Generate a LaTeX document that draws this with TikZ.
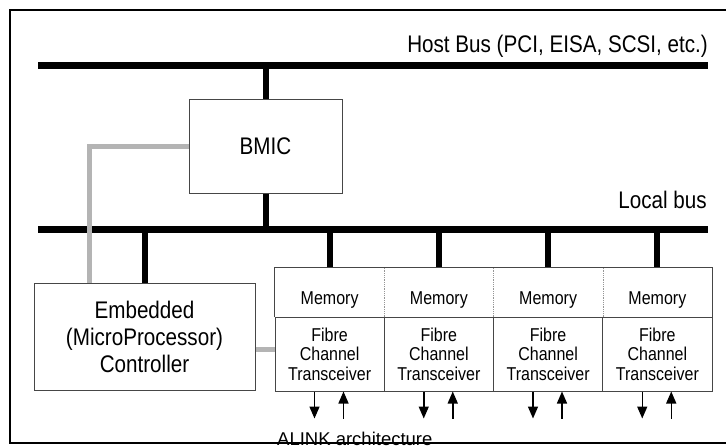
\documentclass[tikz,border=0pt]{standalone}
\usepackage{fontspec}
\setmainfont{Liberation Sans}[FakeStretch=0.86]
\newfontfamily\captionfont{Liberation Sans}
\usetikzlibrary{arrows.meta, positioning}
\definecolor{boxline}{RGB}{70,70,70}
\definecolor{ctrlgray}{RGB}{180,180,180}
\definecolor{divgray}{RGB}{150,150,150}

\begin{document}
\begin{tikzpicture}[x=1pt, y=-1pt,
  bus/.style={line width=7pt},
  tap/.style={line width=6pt},
  ctrlline/.style={line width=5pt, ctrlgray},
  blk/.style={draw=boxline, line width=1pt, align=center, inner sep=0pt},
  bigtext/.style={font=\fontsize{24}{27}\selectfont},
  smalltext/.style={font=\fontsize{18.6}{19.5}\selectfont},
  sig/.style={line width=1.5pt, -{Triangle[width=10pt, length=12pt]}}]
  \useasboundingbox (0,0) rectangle (726,447);

  \coordinate (hbW) at (38,65);
  \coordinate (hbE) at (708,65);
  \coordinate (lbW) at (38,229);
  \coordinate (lbE) at (708,229);
  \draw[bus] (hbW) -- (hbE);
  \draw[bus] (lbW) -- (lbE);
  \node[bigtext, anchor=base east, inner sep=0pt] (hostlbl) at (708,52)
    {Host Bus (PCI, EISA, SCSI, etc.)};
  \node[bigtext, anchor=base east, inner sep=0pt] (locallbl) at (707,208) {Local bus};

  \node[blk, bigtext, minimum width=153pt, minimum height=94pt] (bmic) at (265.5,146) {BMIC};
  \draw[tap] (bmic.north) -- (bmic.north |- hbW);
  \draw[tap] (bmic.south) -- (bmic.south |- lbW);

  \node[blk, bigtext, minimum width=221pt, minimum height=107pt]
    (ctrl) at (144.5,336.5) {Embedded\\(MicroProcessor)\\Controller};
  \draw[tap] (ctrl.north) -- (ctrl.north |- lbW);
  \draw[ctrlline] ([xshift=-55.5pt]ctrl.north) |- (bmic.west);

  \foreach \i in {1,...,4} {
    \pgfmathsetmacro\cx{275+109.25*(\i-0.5)}
    \node[smalltext, minimum width=109.25pt, minimum height=49pt, inner sep=0pt,
          text height=24pt, text depth=0pt] (mem\i) at (\cx,292.5) {Memory};
    \node[blk, smalltext, minimum width=109.25pt, minimum height=74pt]
      (fc\i) at (\cx,354) {Fibre\\Channel\\Transceiver};
    \draw[tap] (mem\i.north) -- (mem\i.north |- lbW);
    \coordinate (out\i) at ([xshift=40pt, yshift=-27pt]fc\i.south west);
    \coordinate (in\i) at ([xshift=69pt, yshift=-27pt]fc\i.south west);
    \draw[sig] (fc\i.south west -| out\i) -- (out\i);
    \draw[sig] (in\i) -- (fc\i.south west -| in\i);
  }
  \foreach \i in {1,2,3}
    \draw[divgray, line width=0.8pt, densely dotted] (mem\i.north east) -- (mem\i.south east);
  \draw[boxline, line width=1pt] (mem1.south west) |- (mem4.north east) -- (mem4.south east);
  \draw[ctrlline] ([yshift=-12.5pt]ctrl.east) -- ([yshift=-12.5pt]ctrl.east -| fc1.west);

  \node[font=\captionfont\fontsize{18.5}{20}\selectfont, anchor=base west, inner sep=0pt]
    (caption) at (277,445) {ALINK architecture};
  \draw[line width=2pt] (735,10) -- (10,10) -- (10,443) -- (735,443);
\end{tikzpicture}
\end{document}
